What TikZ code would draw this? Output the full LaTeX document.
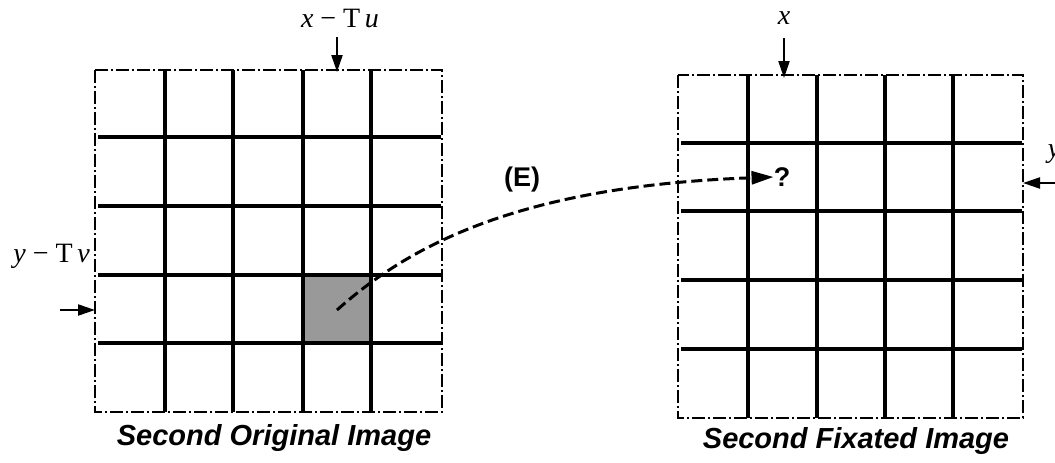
\documentclass[tikz,border=0pt]{standalone}
\usepackage{fontspec}
\setmainfont{Liberation Serif}
\setsansfont{Liberation Sans}
\usetikzlibrary{arrows.meta, positioning}

\begin{document}
\begin{tikzpicture}[
  x=1pt, y=-1pt,
  >={Triangle[length=17pt, width=11pt]},
  frame/.style={line width=1.8pt, dash pattern=on 13pt off 3pt on 2pt off 3pt},
  gridline/.style={line width=3.6pt},
  lbl/.style={font=\fontsize{28}{30}\selectfont, inner sep=1pt},
  caption/.style={font=\fontsize{29}{32}\selectfont\sffamily\bfseries\itshape},
  marker/.style={->, line width=2.2pt},
  flow/.style={line width=3pt, dash pattern=on 11pt off 5pt}
]
\useasboundingbox (0,0) rectangle (1055,463);

% second original image
\fill[black!40] (303,275) rectangle (371,343);
\draw[frame] (95,70) rectangle (442,412);
\foreach \gx in {165,233,303,371} \draw[gridline] (\gx,70) -- (\gx,412);
\foreach \gy in {137,206,275,343} \draw[gridline] (98,\gy) -- (441,\gy);

% second fixated image
\draw[frame] (678,75) rectangle (1023,418);
\foreach \gx in {748,817,885,953} \draw[gridline] (\gx,75) -- (\gx,418);
\foreach \gy in {143,211,280,349} \draw[gridline] (681,\gy) -- (1022,\gy);

% position labels
\node[lbl] (xtu) at (340,18) {\textit{x} − T\,\textit{u}};
\coordinate (xtuend) at (337,72);
\draw[marker] (337,37) -- (xtuend);
\node[lbl, anchor=east] (ytv) at (91,256) {\textit{y} − T\,\textit{v}};
\coordinate (ytvend) at (95,310);
\draw[marker] (60,310) -- (ytvend);
\node[lbl] (xf) at (784,18) {\textit{x}};
\coordinate (xfend) at (784,78);
\draw[marker] (784,38) -- (xfend);
\node[lbl] (yf) at (1054,154) {\textit{y}};
\coordinate (yfend) at (1023,183);
\draw[marker] (1062,183) -- (yfend);

% correspondence
\coordinate (src) at (337,310);
\node[font=\fontsize{27}{30}\selectfont\sffamily\bfseries, inner sep=0pt] (qm) at (782,177) {?};
\node[font=\fontsize{27}{30}\selectfont\sffamily\bfseries] (E) at (522,180) {(E)};
\draw[flow, -{Triangle[length=22pt, width=13pt]}] (src) .. controls (410,245) and (520,186) .. (qm.west);

\node[caption] (orig) at (274,438) {Second Original Image};
\node[caption] (fix) at (856,441) {Second Fixated Image};
\end{tikzpicture}
\end{document}
